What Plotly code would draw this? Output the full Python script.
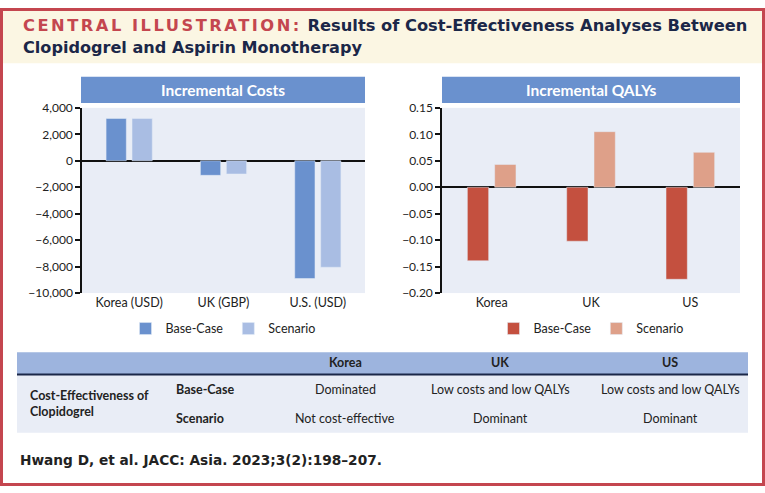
"""Central illustration: cost-effectiveness of clopidogrel vs aspirin monotherapy."""

import plotly.graph_objects as go

# ---------------------------------------------------------------------------
# Data
# ---------------------------------------------------------------------------

cost_categories = ["Korea (USD)", "UK (GBP)", "U.S. (USD)"]
cost_base = [3200, -1100, -8900]
cost_scenario = [3200, -1000, -8050]

qaly_categories = ["Korea", "UK", "US"]
qaly_base = [-0.139, -0.102, -0.174]
qaly_scenario = [0.043, 0.105, 0.066]

table_columns = ["Korea", "UK", "US"]
table_rows = ["Base-Case", "Scenario"]
table_cells = [
    ["Dominated", "Low costs and low QALYs", "Low costs and low QALYs"],
    ["Not cost-effective", "Dominant", "Dominant"],
]

# ---------------------------------------------------------------------------
# Palette / fonts
# ---------------------------------------------------------------------------

RED_FRAME = "#c4464f"
CREAM = "#fbf6e3"
NAVY = "#1b2748"
BLUE_DARK = "#6a91ce"
BLUE_LIGHT = "#a9bde3"
RED_DARK = "#c4503f"
RED_LIGHT = "#dea089"
PLOT_BG = "#e9edf6"
HEADER_BG = "#9db4de"
TEXT = "#222222"
FONT = "Lato"
TITLE_FONT = "DejaVu Sans"

W, H = 765, 493


def px(x):
    return x / W


def py(y):
    return 1 - y / H


fig = go.Figure()

fig.add_trace(go.Bar(x=cost_categories, y=cost_base, name="Base-Case",
                     marker_color=BLUE_DARK, xaxis="x", yaxis="y", legend="legend"))
fig.add_trace(go.Bar(x=cost_categories, y=cost_scenario, name="Scenario",
                     marker_color=BLUE_LIGHT, xaxis="x", yaxis="y", legend="legend"))
fig.add_trace(go.Bar(x=qaly_categories, y=qaly_base, name="Base-Case",
                     marker_color=RED_DARK, xaxis="x2", yaxis="y2", legend="legend2"))
fig.add_trace(go.Bar(x=qaly_categories, y=qaly_scenario, name="Scenario",
                     marker_color=RED_LIGHT, xaxis="x2", yaxis="y2", legend="legend2"))

yaxis_common = dict(
    showline=True, linecolor="#111111", linewidth=1.5,
    ticks="outside", ticklen=5, tickwidth=1.5, tickcolor="#111111",
    showgrid=False, zeroline=True, zerolinecolor="#111111", zerolinewidth=1.5,
    tickfont=dict(family=FONT, size=12, color=TEXT),
)
xaxis_common = dict(
    showline=False, ticks="", showgrid=False,
    tickfont=dict(family=FONT, size=12.5, color=TEXT),
)

legend_common = dict(
    orientation="h", xanchor="center", yanchor="middle",
    font=dict(family=FONT, size=12.5, color=TEXT),
    bgcolor="rgba(0,0,0,0)", itemclick=False,
)

# frame + header band + title bars + table blocks
shapes = [
    dict(type="rect", x0=0, x1=1, y0=py(57), y1=1, fillcolor=CREAM, line_width=0),
    dict(type="rect", x0=px(81), x1=px(365), y0=py(98), y1=py(71),
         fillcolor=BLUE_DARK, line_width=0),
    dict(type="rect", x0=px(442), x1=px(740), y0=py(98), y1=py(71),
         fillcolor=BLUE_DARK, line_width=0),
    dict(type="rect", x0=px(17), x1=px(748), y0=py(378), y1=py(355),
         fillcolor=HEADER_BG, line_width=0),
    dict(type="rect", x0=px(17), x1=px(748), y0=py(438), y1=py(378),
         fillcolor=PLOT_BG, line_width=0),
    dict(type="line", x0=px(17), x1=px(748), y0=py(378), y1=py(378),
         line=dict(color=NAVY, width=2)),
]
for x0, x1, y0, y1 in [(0, 3, 0, H), (W - 3, W, 0, H), (0, W, 0, 3), (0, W, H - 3, H)]:
    shapes.append(dict(type="rect", x0=px(x0), x1=px(x1), y0=py(y1), y1=py(y0),
                       fillcolor=RED_FRAME, line_width=0))

annotations = [
    dict(x=px(21), y=py(18),
         text=f'<span style="color:{RED_FRAME};letter-spacing:2.5px">CENTRAL ILLUSTRATION:</span>'
              ' Results of Cost-Effectiveness Analyses Between',
         xanchor="left",
         font=dict(family=TITLE_FONT, size=16.3, color=NAVY, weight="bold")),
    dict(x=px(21), y=py(41), text="Clopidogrel and Aspirin Monotherapy",
         xanchor="left",
         font=dict(family=TITLE_FONT, size=16.1, color=NAVY, weight="bold")),
    dict(x=px(223), y=py(85), text="Incremental Costs",
         font=dict(family=FONT, size=15.5, color="white", weight="bold")),
    dict(x=px(591), y=py(85), text="Incremental QALYs",
         font=dict(family=FONT, size=15.5, color="white", weight="bold")),
    dict(x=px(28), y=py(408), text="Cost-Effectiveness of<br>Clopidogrel",
         xanchor="left", align="left",
         font=dict(family=FONT, size=12.5, color=TEXT, weight="bold")),
    dict(x=px(18), y=py(466), text="Hwang D, et al. JACC: Asia. 2023;3(2):198–207.",
         xanchor="left",
         font=dict(family=TITLE_FONT, size=13.7, color=TEXT, weight="bold")),
]

col_centers = [345, 500, 670]
row_ys = [393, 423]
for cx, col in zip(col_centers, table_columns):
    annotations.append(dict(x=px(cx), y=py(366), text=col,
                            font=dict(family=FONT, size=12.5, color=TEXT, weight="bold")))
for ry, row, cells in zip(row_ys, table_rows, table_cells):
    annotations.append(dict(x=px(174), y=py(ry), text=row, xanchor="left",
                            font=dict(family=FONT, size=12.5, color=TEXT, weight="bold")))
    for cx, cell in zip(col_centers, cells):
        annotations.append(dict(x=px(cx), y=py(ry), text=cell,
                                font=dict(family=FONT, size=12.5, color=TEXT)))

for a in annotations:
    a.update(xref="paper", yref="paper", showarrow=False)
    a.setdefault("xanchor", "center")
    a.setdefault("yanchor", "middle")
for s in shapes:
    s.update(xref="paper", yref="paper", layer="below")

fig.update_layout(
    width=W, height=H,
    margin=dict(l=0, r=0, t=0, b=0),
    paper_bgcolor="white",
    plot_bgcolor=PLOT_BG,
    barmode="group",
    bargap=0.45,
    bargroupgap=0.22,
    xaxis=dict(domain=[px(82), px(365)], anchor="y", **xaxis_common),
    yaxis=dict(domain=[py(294), py(103)], anchor="x", range=[-10000, 4000],
               tick0=0, dtick=2000, tickformat=",", **yaxis_common),
    xaxis2=dict(domain=[px(442), px(740)], anchor="y2", **xaxis_common),
    yaxis2=dict(domain=[py(294), py(103)], anchor="x2", range=[-0.2, 0.15],
                tick0=0, dtick=0.05, tickformat=".2f", **yaxis_common),
    legend=dict(x=px(223), y=py(331), **legend_common),
    legend2=dict(x=px(591), y=py(331), **legend_common),
    shapes=shapes,
    annotations=annotations,
)

# drop the default page margin so the figure sits at the window's corner
fig.write_html("out.html", config={"displayModeBar": False},
               post_script="document.body.style.margin='0';")
